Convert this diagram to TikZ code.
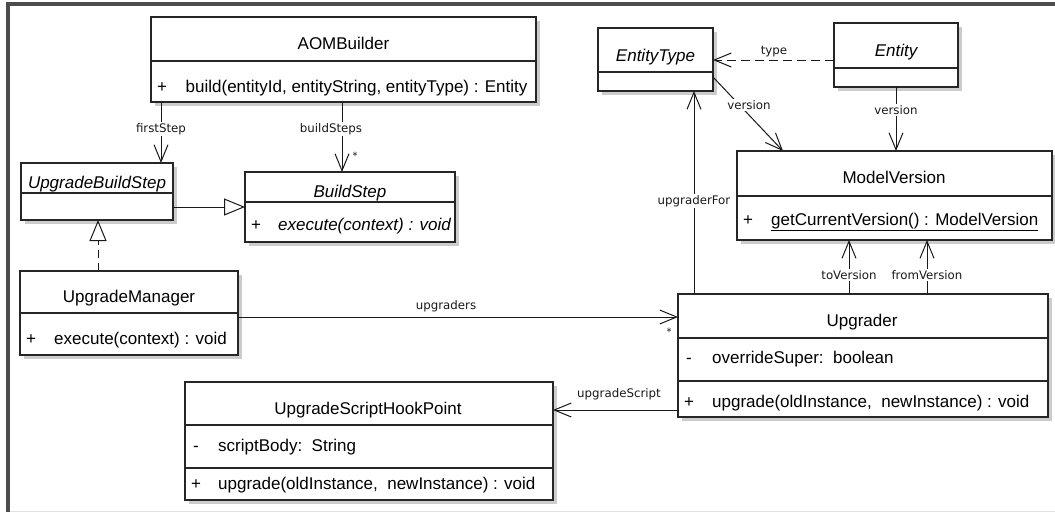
\documentclass[tikz,border=0pt]{standalone}
\usepackage{fontspec}
\setmainfont{Liberation Sans}
\newfontfamily\lblfont{DejaVu Sans}
\usetikzlibrary{arrows.meta,shadows}
\begin{document}
\begin{tikzpicture}[x=1pt,y=-1pt,
  classbox/.style={draw=black!85, line width=1.1pt, fill=white, inner sep=0pt, outer sep=0pt,
    anchor=north west, drop shadow={shadow xshift=4pt, shadow yshift=-4pt, fill=black!20, opacity=1}},
  divider/.style={draw=black!85, line width=1.1pt},
  txt/.style={inner sep=0pt, anchor=base west, text=black, font=\fontsize{17}{20}\selectfont},
  ctr/.style={inner sep=0pt, anchor=base, text=black, font=\fontsize{17}{20}\selectfont},
  lbl/.style={inner sep=1.5pt, anchor=base, fill=white, text=black!90, font=\lblfont\fontsize{11.8}{13}\selectfont},
  mult/.style={inner sep=0pt, anchor=base, text=black!90, font=\lblfont\fontsize{10}{12}\selectfont},
  assoc/.style={draw=black!90, line width=1pt, -{Straight Barb[length=17pt,width=14pt]}},
  depend/.style={assoc, dash pattern=on 9pt off 5pt},
  general/.style={draw=black!90, line width=1pt, -{Triangle[open,length=21pt,width=17pt]}},
  realize/.style={general, dash pattern=on 8pt off 5pt},
  frameline/.style={draw=black!70, line width=4pt}
]
\useasboundingbox (0,0) rectangle (1055,512);
\fill[white] (0,0) rectangle (1055,512);
% frame
\draw[frameline] (8,512) -- (8,4) -- (1055,4);
\draw[black!12, line width=1pt] (10,511) -- (1055,511);

% ---------- classes ----------
% AOMBuilder
\node[classbox, minimum width=385pt, minimum height=85pt] (aom) at (151,17) {};
\draw[divider] (aom.west |- 0,61) -- (aom.east |- 0,61);
\node[ctr] (aomN) at (343.5,49) {AOMBuilder};
\node[ctr] (aomV) at (162,92) {+};
\node[txt] (aomM) at (185.5,92) {build(entityId, entityString, entityType) : Entity};

% UpgradeBuildStep
\node[classbox, minimum width=152pt, minimum height=57pt] (ubs) at (21,163) {};
\draw[divider] (ubs.west |- 0,193) -- (ubs.east |- 0,193);
\node[ctr] (ubsN) at (97,188) {\itshape UpgradeBuildStep};

% BuildStep
\node[classbox, minimum width=210pt, minimum height=70pt] (bs) at (245,172) {};
\draw[divider] (bs.west |- 0,202) -- (bs.east |- 0,202);
\node[ctr] (bsN) at (350,197) {\itshape BuildStep};
\node[ctr] (bsV) at (256,230) {+};
\node[txt] (bsM) at (278,230) {\itshape execute(context) : void};

% EntityType
\node[classbox, minimum width=115pt, minimum height=63pt] (et) at (598,28) {};
\draw[divider] (et.west |- 0,72) -- (et.east |- 0,72);
\node[ctr] (etN) at (655.5,61) {\itshape EntityType};

% Entity
\node[classbox, minimum width=124pt, minimum height=64pt] (ent) at (834,23) {};
\draw[divider] (ent.west |- 0,68) -- (ent.east |- 0,68);
\node[ctr] (entN) at (896,56.5) {\itshape Entity};

% ModelVersion
\node[classbox, minimum width=315pt, minimum height=89pt] (mv) at (737,151) {};
\draw[divider] (mv.west |- 0,196) -- (mv.east |- 0,196);
\node[ctr] (mvN) at (894,183) {ModelVersion};
\node[ctr] (mvV) at (748,225) {+};
\node[txt] (mvM) at (771,225) {\underline{getCurrentVersion() : ModelVersion}};

% UpgradeManager
\node[classbox, minimum width=218pt, minimum height=84pt] (um) at (20,271) {};
\draw[divider] (um.west |- 0,313) -- (um.east |- 0,313);
\node[ctr] (umN) at (129,302) {UpgradeManager};
\node[ctr] (umV) at (31,344) {+};
\node[txt] (umM) at (54,344) {execute(context) : void};

% Upgrader
\node[classbox, minimum width=370pt, minimum height=123pt] (upg) at (678,294) {};
\draw[divider] (upg.west |- 0,338) -- (upg.east |- 0,338);
\draw[divider] (upg.west |- 0,381) -- (upg.east |- 0,381);
\node[ctr] (upgN) at (862,326) {Upgrader};
\node[ctr] (upgV1) at (689,363) {-};
\node[txt] (upgA) at (712,363) {overrideSuper:~~boolean};
\node[ctr] (upgV2) at (689,407) {+};
\node[txt] (upgM) at (712,407) {upgrade(oldInstance,~~newInstance) : void};

% UpgradeScriptHookPoint
\node[classbox, minimum width=368pt, minimum height=118pt] (ushp) at (185,382) {};
\draw[divider] (ushp.west |- 0,425) -- (ushp.east |- 0,425);
\draw[divider] (ushp.west |- 0,468) -- (ushp.east |- 0,468);
\node[ctr] (ushpN) at (368,414) {UpgradeScriptHookPoint};
\node[ctr] (ushpV1) at (196,451) {-};
\node[txt] (ushpA) at (218,451) {scriptBody:~~String};
\node[ctr] (ushpV2) at (196,489) {+};
\node[txt] (ushpM) at (218,489) {upgrade(oldInstance,~~newInstance) : void};

% ---------- connectors ----------
\draw[assoc] (161,0 |- aom.south) -- (161,0 |- ubs.north);
\draw[assoc] (342,0 |- aom.south) -- (342,0 |- bs.north);
\draw[general] (ubs.east |- 0,207) -- (bs.west |- 0,207);
\draw[realize] (98,0 |- um.north) -- (98,0 |- ubs.south);
\draw[depend] (ent.west |- 0,60) -- (et.east |- 0,60);
\draw[assoc] (et.east |- 0,77) -- (783,0 |- mv.north);
\draw[assoc] (896,0 |- ent.south) -- (896,0 |- mv.north);
\draw[assoc] (694,0 |- upg.north) -- (694,0 |- et.south);
\draw[assoc] (849,0 |- upg.north) -- (849,0 |- mv.south);
\draw[assoc] (927,0 |- upg.north) -- (927,0 |- mv.south);
\draw[assoc] (um.east |- 0,317) -- (upg.west |- 0,317);
\draw[assoc] (upg.west |- 0,410) -- (ushp.east |- 0,410);

% ---------- labels ----------
\node[lbl] (lFirst) at (161,132) {firstStep};
\node[lbl] (lBuild) at (331,132) {buildSteps};
\node[mult] (mBuild) at (355,159) {*};
\node[lbl, fill=none] (lType) at (774,54) {type};
\node[lbl] (lVer1) at (749,109) {version};
\node[lbl] (lVer2) at (896,114) {version};
\node[lbl] (lUpFor) at (694,204) {upgraderFor};
\node[lbl] (lTo) at (849,279) {toVersion};
\node[lbl] (lFrom) at (927,279) {fromVersion};
\node[lbl, fill=none] (lUpgs) at (446,309) {upgraders};
\node[mult] (mUpgs) at (669,335) {*};
\node[lbl, fill=none] (lScript) at (619,397) {upgradeScript};
\end{tikzpicture}
\end{document}
